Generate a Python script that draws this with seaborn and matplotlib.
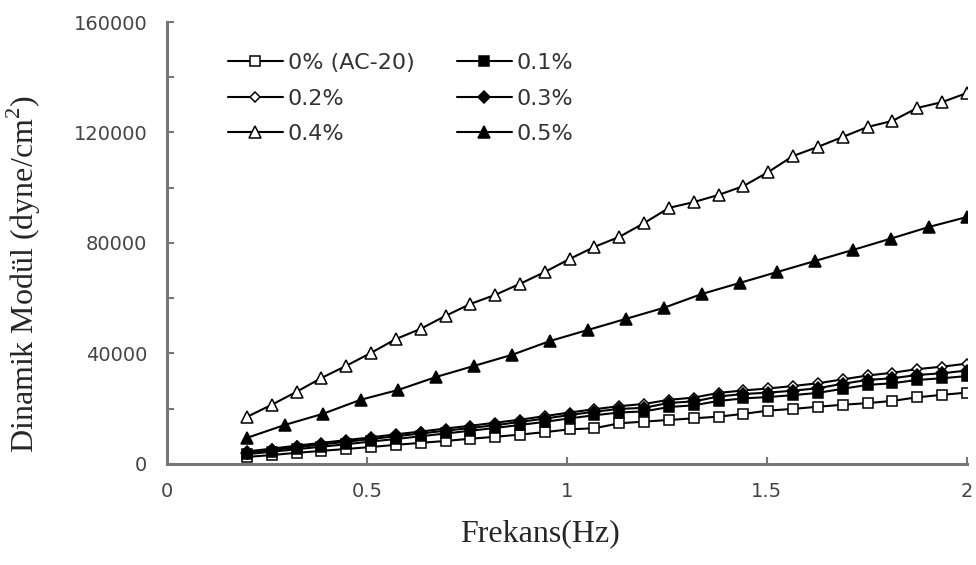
import numpy as np
import pandas as pd
import matplotlib
matplotlib.use("Agg")
import matplotlib.pyplot as plt
import seaborn as sns
from matplotlib.ticker import MultipleLocator, FixedLocator, FuncFormatter

# Frequency sweep (Hz)
freq_30 = np.linspace(0.2, 2.0, 30)
freq_20 = np.linspace(0.2, 2.0, 20)

# Dynamic modulus (dyne/cm^2) per additive content
mod_0 = [2500, 3200, 4000, 4700, 5400, 6100, 6900, 7600, 8300, 9100,
         9800, 10600, 11500, 12500, 12900, 14700, 15300, 15900, 16500, 17100,
         18100, 19300, 19900, 20700, 21400, 22000, 22800, 24100, 25000, 25800]
mod_01 = [3500, 4400, 5300, 6200, 7100, 8100, 9000, 10000, 11000, 12000,
          13000, 14100, 15200, 16500, 17600, 18600, 19000, 20600, 21200, 22800,
          23700, 24200, 24900, 25700, 27200, 28600, 29200, 30400, 31000, 31800]
mod_02 = [4500, 5500, 6600, 7600, 8600, 9600, 10700, 11700, 12800, 13800,
          14900, 16000, 17300, 18600, 19800, 20900, 21700, 23200, 24000, 25700,
          26600, 27300, 28200, 29200, 30600, 32000, 33000, 34300, 35200, 36300]
mod_03 = [4000, 5000, 6000, 7000, 8000, 9000, 10000, 11000, 12000, 13000,
          14000, 15200, 16400, 17700, 18900, 19900, 20300, 22100, 22600, 24400,
          25300, 25800, 26500, 27400, 29000, 30400, 31000, 32200, 32800, 33800]
mod_04 = [17000, 21400, 26100, 31100, 35500, 40200, 45200, 48900, 53600, 57900,
          61200, 65200, 69500, 74200, 78600, 82200, 87200, 92700, 94800, 97400,
          100600, 105700, 111500, 114800, 118400, 122000, 124200, 128900, 131000, 134300]
mod_05 = [9400, 14100, 18100, 23200, 26800, 31500, 35500, 39500, 44500, 48500,
          52500, 56500, 61500, 65500, 69500, 73500, 77500, 81600, 85800, 89400]

labels = ["0% (AC-20)", "0.1%", "0.2%", "0.3%", "0.4%", "0.5%"]

series = [
    (labels[0], freq_30, mod_0, "s", "white", 6.5),
    (labels[1], freq_30, mod_01, "s", "black", 6.5),
    (labels[2], freq_30, mod_02, "D", "white", 5.0),
    (labels[3], freq_30, mod_03, "D", "black", 6.0),
    (labels[4], freq_30, mod_04, "^", "white", 8.5),
    (labels[5], freq_20, mod_05, "^", "black", 8.5),
]

sns.set_style("ticks")
plt.rcParams["font.family"] = ["DejaVu Sans"]
plt.rcParams["mathtext.fontset"] = "custom"
plt.rcParams["mathtext.rm"] = "Liberation Serif"

fig = plt.figure(figsize=(9.76, 5.65), dpi=100)
ax = fig.add_axes([0.171, 0.179, 0.8197, 0.782])

for name, xs, ys, mk, fc, ms in series:
    df = pd.DataFrame({"Frekans": xs, "Modul": ys})
    sns.lineplot(data=df, x="Frekans", y="Modul", ax=ax, color="black",
                 linewidth=1.5, marker=mk, markersize=ms,
                 markerfacecolor=fc, markeredgecolor="black",
                 markeredgewidth=1.1, label=name)

ax.set_xlim(0, 2)
ax.set_ylim(0, 160000)

ax.xaxis.set_major_locator(FixedLocator([0, 0.5, 1, 1.5, 2]))
ax.xaxis.set_major_formatter(FuncFormatter(lambda v, p: f"{v:g}"))
ax.yaxis.set_major_locator(MultipleLocator(40000))
ax.yaxis.set_minor_locator(MultipleLocator(20000))
ax.yaxis.set_major_formatter(FuncFormatter(lambda v, p: f"{int(v)}"))

ax.tick_params(axis="both", which="both", direction="in", colors="#777777",
               labelcolor="#444444", labelsize=14)
ax.tick_params(axis="y", which="major", length=5, width=1.5, pad=14)
ax.tick_params(axis="y", which="minor", length=5, width=1.5)
ax.tick_params(axis="x", which="major", length=5, width=1.5, pad=13)

for side in ("top", "right"):
    ax.spines[side].set_visible(False)
for side in ("left", "bottom"):
    ax.spines[side].set_color("#777777")
    ax.spines[side].set_linewidth(2.2)

ax.set_xlabel("Frekans(Hz)", fontsize=23, family="Liberation Serif")
ax.set_ylabel("Dinamik Modül (dyne/cm$^2$)", fontsize=23,
              family="Liberation Serif")
ax.xaxis.set_label_coords(0.466, -0.125)
ax.yaxis.set_label_coords(-0.155, 0.43)

h, l = ax.get_legend_handles_labels()
lookup = dict(zip(l, h))
order = [labels[0], labels[2], labels[4], labels[1], labels[3], labels[5]]
ax.legend([lookup[k] for k in order], order, ncol=2, frameon=False,
          loc="upper left", bbox_to_anchor=(0.076, 0.93), borderpad=0,
          borderaxespad=0, fontsize=16, handlelength=2.5, handletextpad=0.2,
          columnspacing=1.9, labelspacing=0.7, labelcolor="#333333")

fig.savefig("out.png", dpi=100)
